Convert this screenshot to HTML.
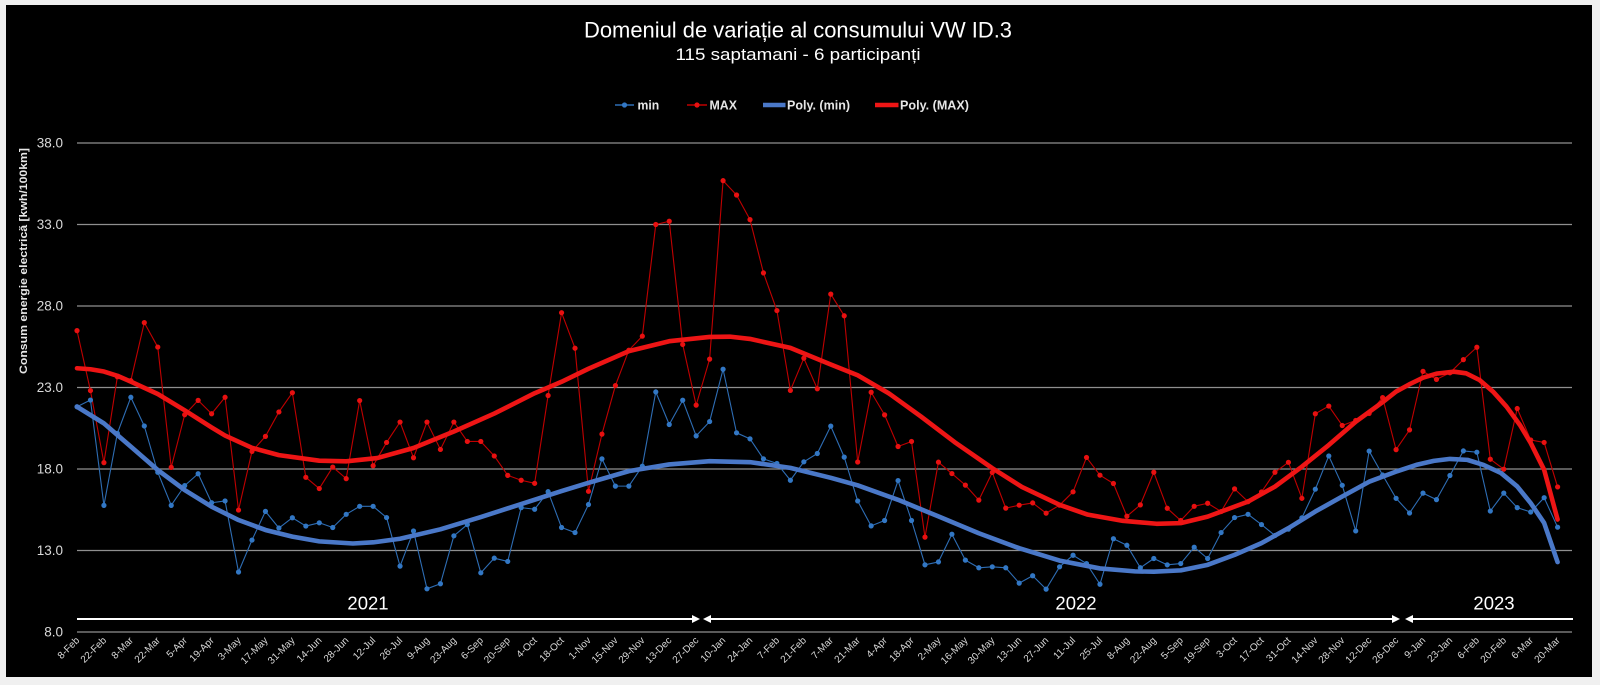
<!DOCTYPE html>
<html>
<head>
<meta charset="utf-8">
<style>
  html, body { margin:0; padding:0; background:#f0f0f0; }
  svg { display:block; }
  .tick { font-family:"Liberation Sans", sans-serif; font-size:13.5px; fill:#d9d9d9; }
  .xl { font-family:"Liberation Sans", sans-serif; font-size:10px; fill:#d9d9d9; }
  .leg { font-family:"Liberation Sans", sans-serif; font-size:12.5px; font-weight:bold; fill:#e6e6e6; }
</style>
</head>
<body>
<svg width="1600" height="685" viewBox="0 0 1600 685" xmlns="http://www.w3.org/2000/svg">
  <rect x="0" y="0" width="1600" height="685" fill="#f0f0f0"/>
  <rect x="6" y="5" width="1586" height="672" fill="#000"/>

  <!-- Title -->
  <text x="798" y="37.5" text-anchor="middle" font-family="Liberation Sans, sans-serif" font-size="22" fill="#ffffff" textLength="428" lengthAdjust="spacingAndGlyphs">Domeniul de variație al consumului VW ID.3</text>
  <text x="798" y="60" text-anchor="middle" font-family="Liberation Sans, sans-serif" font-size="17" fill="#ffffff" textLength="245" lengthAdjust="spacingAndGlyphs">115 saptamani - 6 participanți</text>

  <!-- Legend -->
  <line x1="615" y1="105" x2="634" y2="105" stroke="#2e6db4" stroke-width="1.5"/>
  <circle cx="624.5" cy="105" r="2.6" fill="#3277c4"/>
  <text class="leg" x="637.5" y="109.5" textLength="21.7" lengthAdjust="spacingAndGlyphs">min</text>
  <line x1="687" y1="105" x2="707" y2="105" stroke="#c00000" stroke-width="1.5"/>
  <circle cx="697" cy="105" r="2.6" fill="#e81010"/>
  <text class="leg" x="709.5" y="109.5" textLength="27.5" lengthAdjust="spacingAndGlyphs">MAX</text>
  <line x1="763" y1="105" x2="785.5" y2="105" stroke="#4a78c8" stroke-width="4.5"/>
  <text class="leg" x="787" y="109.5" textLength="63" lengthAdjust="spacingAndGlyphs">Poly. (min)</text>
  <line x1="875" y1="105" x2="898.5" y2="105" stroke="#ee1515" stroke-width="4.5"/>
  <text class="leg" x="900" y="109.5" textLength="69" lengthAdjust="spacingAndGlyphs">Poly. (MAX)</text>

  <!-- Gridlines -->
  <g stroke="#8f8f8f" stroke-width="1.2">
    <line x1="77" y1="143" x2="1572" y2="143"/>
    <line x1="77" y1="224.5" x2="1572" y2="224.5"/>
    <line x1="77" y1="306" x2="1572" y2="306"/>
    <line x1="77" y1="387.5" x2="1572" y2="387.5"/>
    <line x1="77" y1="469" x2="1572" y2="469"/>
    <line x1="77" y1="550.5" x2="1572" y2="550.5"/>
    <line x1="77" y1="632" x2="1572" y2="632"/>
  </g>

  <!-- Y tick labels -->
  <g class="tick" text-anchor="end">
    <text x="63" y="147.5">38.0</text>
    <text x="63" y="229">33.0</text>
    <text x="63" y="310.5">28.0</text>
    <text x="63" y="392">23.0</text>
    <text x="63" y="473.5">18.0</text>
    <text x="63" y="555">13.0</text>
    <text x="63" y="636.5">8.0</text>
  </g>

  <!-- Y axis title -->
  <text transform="translate(27,261) rotate(-90)" text-anchor="middle" font-family="Liberation Sans, sans-serif" font-size="11" font-weight="bold" fill="#e6e6e6" textLength="226" lengthAdjust="spacingAndGlyphs">Consum energie electrică [kwh/100km]</text>

  <!-- Year arrows -->
  <g stroke="#ffffff" stroke-width="2">
    <line x1="77" y1="619" x2="695" y2="619"/>
    <line x1="708" y1="619" x2="1395" y2="619"/>
    <line x1="1410" y1="619" x2="1573" y2="619"/>
  </g>
  <g fill="#ffffff">
    <polygon points="700,619 692,615 692,623"/>
    <polygon points="703,619 711,615 711,623"/>
    <polygon points="1400,619 1392,615 1392,623"/>
    <polygon points="1405,619 1413,615 1413,623"/>
  </g>
  <g font-family="Liberation Sans, sans-serif" font-size="18.5" fill="#ffffff" text-anchor="middle">
    <text x="368" y="609.5">2021</text>
    <text x="1076" y="609.5">2022</text>
    <text x="1494" y="609.5">2023</text>
  </g>

  <!-- Data (data coords: x = week index, y = value) -->
  <g transform="matrix(13.46 0 0 -16.3 77 762.4)" fill="none">
    <!-- min line -->
    <path vector-effect="non-scaling-stroke" stroke="#2e6db4" stroke-width="1.1" stroke-linejoin="round"
      d="M0 21.82L1 22.23 2 15.77 3 20.19 4 22.4 5 20.64 6 17.8 7 15.77 8 16.98 9 17.71 10 15.93 11 16.04 12 11.68 13 13.64 14 15.4 15 14.38 16 15.01 17 14.5 18 14.7 19 14.41 20 15.22 21 15.71 22 15.71 23 15.02 24 12.04 25 14.2 26 10.65 27 10.96 28 13.9 29 14.59 30 11.63 31 12.53 32 12.33 33 15.63 34 15.53 35 16.61 36 14.41 37 14.1 38 15.82 39 18.62 40 16.95 41 16.95 42 18.17 43 22.73 44 20.73 45 22.22 46 20.03 47 20.91 48 24.12 49 20.22 50 19.85 51 18.62 52 18.34 53 17.31 54 18.44 55 18.95 56 20.63 57 18.73 58 16.04 59 14.51 60 14.84 61 17.29 62 14.84 63 12.12 64 12.3 65 14 66 12.41 67 11.94 68 12 69 11.94 70 11 71 11.45 72 10.63 73 12 74 12.71 75 12.2 76 10.93 77 13.72 78 13.32 79 11.94 80 12.51 81 12.12 82 12.2 83 13.2 84 12.51 85 14.1 86 15.02 87 15.22 88 14.59 89 13.92 90 14.31 91 15 92 16.76 93 18.8 94 17 95 14.2 96 19.1 97 17.63 98 16.2 99 15.3 100 16.52 101 16.12 102 17.6 103 19.11 104 19.03 105 15.42 106 16.52 107 15.63 108 15.36 109 16.24 110 14.43"/>
    <!-- MAX line -->
    <path vector-effect="non-scaling-stroke" stroke="#c00000" stroke-width="1.1" stroke-linejoin="round"
      d="M0 26.49L1 22.81 2 18.39 3 23.66 4 23.42 5 26.98 6 25.48 7 18.1 8 21.33 9 22.21 10 21.39 11 22.4 12 15.48 13 19.08 14 20 15 21.5 16 22.68 17 17.49 18 16.8 19 18.12 20 17.41 21 22.2 22 18.2 23 19.63 24 20.88 25 18.69 26 20.88 27 19.2 28 20.88 29 19.69 30 19.69 31 18.8 32 17.61 33 17.31 34 17.12 35 22.51 36 27.59 37 25.41 38 16.63 39 20.14 40 23.12 41 25.29 42 26.15 43 33 44 33.2 45 25.64 46 21.92 47 24.74 48 35.69 49 34.81 50 33.3 51 30.03 52 27.72 53 22.82 54 24.8 55 22.92 56 28.73 57 27.4 58 18.43 59 22.71 60 21.32 61 19.38 62 19.69 63 13.82 64 18.42 65 17.72 66 17.01 67 16.09 68 17.79 69 15.6 70 15.78 71 15.92 72 15.29 73 15.78 74 16.6 75 18.71 76 17.62 77 17.11 78 15.1 79 15.8 80 17.8 81 15.59 82 14.84 83 15.71 84 15.9 85 15.39 86 16.78 87 16 88 16.59 89 17.8 90 18.41 91 16.2 92 21.39 93 21.86 94 20.67 95 20.98 96 21.41 97 22.38 98 19.19 99 20.4 100 23.99 101 23.5 102 23.9 103 24.71 104 25.47 105 18.6 106 17.99 107 21.71 108 19.78 109 19.63 110 16.9"/>
    <!-- min markers -->
    <path vector-effect="non-scaling-stroke" stroke="#3277c4" stroke-width="5.2" stroke-linecap="round"
      d="M0 21.82h.001M1 22.23h.001M2 15.77h.001M3 20.19h.001M4 22.4h.001M5 20.64h.001M6 17.8h.001M7 15.77h.001M8 16.98h.001M9 17.71h.001M10 15.93h.001M11 16.04h.001M12 11.68h.001M13 13.64h.001M14 15.4h.001M15 14.38h.001M16 15.01h.001M17 14.5h.001M18 14.7h.001M19 14.41h.001M20 15.22h.001M21 15.71h.001M22 15.71h.001M23 15.02h.001M24 12.04h.001M25 14.2h.001M26 10.65h.001M27 10.96h.001M28 13.9h.001M29 14.59h.001M30 11.63h.001M31 12.53h.001M32 12.33h.001M33 15.63h.001M34 15.53h.001M35 16.61h.001M36 14.41h.001M37 14.1h.001M38 15.82h.001M39 18.62h.001M40 16.95h.001M41 16.95h.001M42 18.17h.001M43 22.73h.001M44 20.73h.001M45 22.22h.001M46 20.03h.001M47 20.91h.001M48 24.12h.001M49 20.22h.001M50 19.85h.001M51 18.62h.001M52 18.34h.001M53 17.31h.001M54 18.44h.001M55 18.95h.001M56 20.63h.001M57 18.73h.001M58 16.04h.001M59 14.51h.001M60 14.84h.001M61 17.29h.001M62 14.84h.001M63 12.12h.001M64 12.3h.001M65 14h.001M66 12.41h.001M67 11.94h.001M68 12h.001M69 11.94h.001M70 11h.001M71 11.45h.001M72 10.63h.001M73 12h.001M74 12.71h.001M75 12.2h.001M76 10.93h.001M77 13.72h.001M78 13.32h.001M79 11.94h.001M80 12.51h.001M81 12.12h.001M82 12.2h.001M83 13.2h.001M84 12.51h.001M85 14.1h.001M86 15.02h.001M87 15.22h.001M88 14.59h.001M89 13.92h.001M90 14.31h.001M91 15h.001M92 16.76h.001M93 18.8h.001M94 17h.001M95 14.2h.001M96 19.1h.001M97 17.63h.001M98 16.2h.001M99 15.3h.001M100 16.52h.001M101 16.12h.001M102 17.6h.001M103 19.11h.001M104 19.03h.001M105 15.42h.001M106 16.52h.001M107 15.63h.001M108 15.36h.001M109 16.24h.001M110 14.43h.001"/>
    <!-- MAX markers -->
    <path vector-effect="non-scaling-stroke" stroke="#e81010" stroke-width="5.2" stroke-linecap="round"
      d="M0 26.49h.001M1 22.81h.001M2 18.39h.001M3 23.66h.001M4 23.42h.001M5 26.98h.001M6 25.48h.001M7 18.1h.001M8 21.33h.001M9 22.21h.001M10 21.39h.001M11 22.4h.001M12 15.48h.001M13 19.08h.001M14 20h.001M15 21.5h.001M16 22.68h.001M17 17.49h.001M18 16.8h.001M19 18.12h.001M20 17.41h.001M21 22.2h.001M22 18.2h.001M23 19.63h.001M24 20.88h.001M25 18.69h.001M26 20.88h.001M27 19.2h.001M28 20.88h.001M29 19.69h.001M30 19.69h.001M31 18.8h.001M32 17.61h.001M33 17.31h.001M34 17.12h.001M35 22.51h.001M36 27.59h.001M37 25.41h.001M38 16.63h.001M39 20.14h.001M40 23.12h.001M41 25.29h.001M42 26.15h.001M43 33h.001M44 33.2h.001M45 25.64h.001M46 21.92h.001M47 24.74h.001M48 35.69h.001M49 34.81h.001M50 33.3h.001M51 30.03h.001M52 27.72h.001M53 22.82h.001M54 24.8h.001M55 22.92h.001M56 28.73h.001M57 27.4h.001M58 18.43h.001M59 22.71h.001M60 21.32h.001M61 19.38h.001M62 19.69h.001M63 13.82h.001M64 18.42h.001M65 17.72h.001M66 17.01h.001M67 16.09h.001M68 17.79h.001M69 15.6h.001M70 15.78h.001M71 15.92h.001M72 15.29h.001M73 15.78h.001M74 16.6h.001M75 18.71h.001M76 17.62h.001M77 17.11h.001M78 15.1h.001M79 15.8h.001M80 17.8h.001M81 15.59h.001M82 14.84h.001M83 15.71h.001M84 15.9h.001M85 15.39h.001M86 16.78h.001M87 16h.001M88 16.59h.001M89 17.8h.001M90 18.41h.001M91 16.2h.001M92 21.39h.001M93 21.86h.001M94 20.67h.001M95 20.98h.001M96 21.41h.001M97 22.38h.001M98 19.19h.001M99 20.4h.001M100 23.99h.001M101 23.5h.001M102 23.9h.001M103 24.71h.001M104 25.47h.001M105 18.6h.001M106 17.99h.001M107 21.71h.001M108 19.78h.001M109 19.63h.001M110 16.9h.001"/>
    <!-- Poly (min) -->
    <polyline vector-effect="non-scaling-stroke" stroke="#4a78c8" stroke-width="4.6" stroke-linejoin="round" stroke-linecap="round"
      points="0,21.82 2,20.8 4,19.37 6,17.94 8,16.71 10,15.69 12,14.87 14,14.26 16,13.85 18,13.56 20.5,13.43 22,13.5 24,13.72 27,14.3 30,15.05 33,15.85 36,16.65 38,17.15 41,17.87 44,18.28 47,18.48 50,18.42 53,18.07 56,17.46 58,17.0 61,16.11 64,15.09 67,14.06 70,13.14 73,12.38 76,11.9 78.6,11.72 80,11.7 82,11.78 84,12.12 86,12.73 88,13.45 90,14.37 92,15.39 94,16.31 96,17.22 98,17.84 99.5,18.25 100.8,18.5 102,18.62 103.3,18.56 104.5,18.25 105.8,17.75 107,16.93 108,15.91 109,14.69 110,12.29"/>
    <!-- Poly (MAX) -->
    <polyline vector-effect="non-scaling-stroke" stroke="#ee1515" stroke-width="4.6" stroke-linejoin="round" stroke-linecap="round"
      points="0,24.18 1,24.12 2,23.98 3,23.72 4,23.36 6,22.6 8,21.6 10,20.55 11,20.05 13,19.3 15,18.85 18,18.51 20,18.47 22.3,18.67 25,19.29 28,20.3 31,21.4 34,22.65 36,23.35 38,24.15 41,25.23 44,25.84 47,26.1 48.5,26.12 50,25.98 53,25.43 56,24.41 58,23.75 60.3,22.65 62.7,21.22 65.2,19.65 68,18.05 70.2,16.9 73,15.8 75.1,15.2 77.7,14.82 80.2,14.64 82,14.68 84,15.08 86,15.69 87,16.0 89,16.92 91,18.14 93,19.47 95,20.9 97,22.1 98,22.75 99,23.2 100,23.6 101,23.85 102.3,23.97 103.2,23.87 104.2,23.46 105.2,22.75 106.2,21.83 107.2,20.7 108,19.6 109,17.95 110,14.9"/>
  </g>

  <!-- X axis labels -->
  <g class="xl" text-anchor="end">
    <text transform="translate(80,641) rotate(-45)">8-Feb</text>
    <text transform="translate(106.9,641) rotate(-45)">22-Feb</text>
    <text transform="translate(133.8,641) rotate(-45)">8-Mar</text>
    <text transform="translate(160.8,641) rotate(-45)">22-Mar</text>
    <text transform="translate(187.7,641) rotate(-45)">5-Apr</text>
    <text transform="translate(214.6,641) rotate(-45)">19-Apr</text>
    <text transform="translate(241.5,641) rotate(-45)">3-May</text>
    <text transform="translate(268.4,641) rotate(-45)">17-May</text>
    <text transform="translate(295.4,641) rotate(-45)">31-May</text>
    <text transform="translate(322.3,641) rotate(-45)">14-Jun</text>
    <text transform="translate(349.2,641) rotate(-45)">28-Jun</text>
    <text transform="translate(376.1,641) rotate(-45)">12-Jul</text>
    <text transform="translate(403,641) rotate(-45)">26-Jul</text>
    <text transform="translate(430,641) rotate(-45)">9-Aug</text>
    <text transform="translate(456.9,641) rotate(-45)">23-Aug</text>
    <text transform="translate(483.8,641) rotate(-45)">6-Sep</text>
    <text transform="translate(510.7,641) rotate(-45)">20-Sep</text>
    <text transform="translate(537.6,641) rotate(-45)">4-Oct</text>
    <text transform="translate(564.6,641) rotate(-45)">18-Oct</text>
    <text transform="translate(591.5,641) rotate(-45)">1-Nov</text>
    <text transform="translate(618.4,641) rotate(-45)">15-Nov</text>
    <text transform="translate(645.3,641) rotate(-45)">29-Nov</text>
    <text transform="translate(672.2,641) rotate(-45)">13-Dec</text>
    <text transform="translate(699.2,641) rotate(-45)">27-Dec</text>
    <text transform="translate(726.1,641) rotate(-45)">10-Jan</text>
    <text transform="translate(753,641) rotate(-45)">24-Jan</text>
    <text transform="translate(779.9,641) rotate(-45)">7-Feb</text>
    <text transform="translate(806.8,641) rotate(-45)">21-Feb</text>
    <text transform="translate(833.8,641) rotate(-45)">7-Mar</text>
    <text transform="translate(860.7,641) rotate(-45)">21-Mar</text>
    <text transform="translate(887.6,641) rotate(-45)">4-Apr</text>
    <text transform="translate(914.5,641) rotate(-45)">18-Apr</text>
    <text transform="translate(941.4,641) rotate(-45)">2-May</text>
    <text transform="translate(968.4,641) rotate(-45)">16-May</text>
    <text transform="translate(995.3,641) rotate(-45)">30-May</text>
    <text transform="translate(1022.2,641) rotate(-45)">13-Jun</text>
    <text transform="translate(1049.1,641) rotate(-45)">27-Jun</text>
    <text transform="translate(1076,641) rotate(-45)">11-Jul</text>
    <text transform="translate(1103,641) rotate(-45)">25-Jul</text>
    <text transform="translate(1129.9,641) rotate(-45)">8-Aug</text>
    <text transform="translate(1156.8,641) rotate(-45)">22-Aug</text>
    <text transform="translate(1183.7,641) rotate(-45)">5-Sep</text>
    <text transform="translate(1210.6,641) rotate(-45)">19-Sep</text>
    <text transform="translate(1237.6,641) rotate(-45)">3-Oct</text>
    <text transform="translate(1264.5,641) rotate(-45)">17-Oct</text>
    <text transform="translate(1291.4,641) rotate(-45)">31-Oct</text>
    <text transform="translate(1318.3,641) rotate(-45)">14-Nov</text>
    <text transform="translate(1345.2,641) rotate(-45)">28-Nov</text>
    <text transform="translate(1372.2,641) rotate(-45)">12-Dec</text>
    <text transform="translate(1399.1,641) rotate(-45)">26-Dec</text>
    <text transform="translate(1426,641) rotate(-45)">9-Jan</text>
    <text transform="translate(1452.9,641) rotate(-45)">23-Jan</text>
    <text transform="translate(1479.8,641) rotate(-45)">6-Feb</text>
    <text transform="translate(1506.8,641) rotate(-45)">20-Feb</text>
    <text transform="translate(1533.7,641) rotate(-45)">6-Mar</text>
    <text transform="translate(1560.6,641) rotate(-45)">20-Mar</text>
  </g>
</svg>
</body>
</html>
